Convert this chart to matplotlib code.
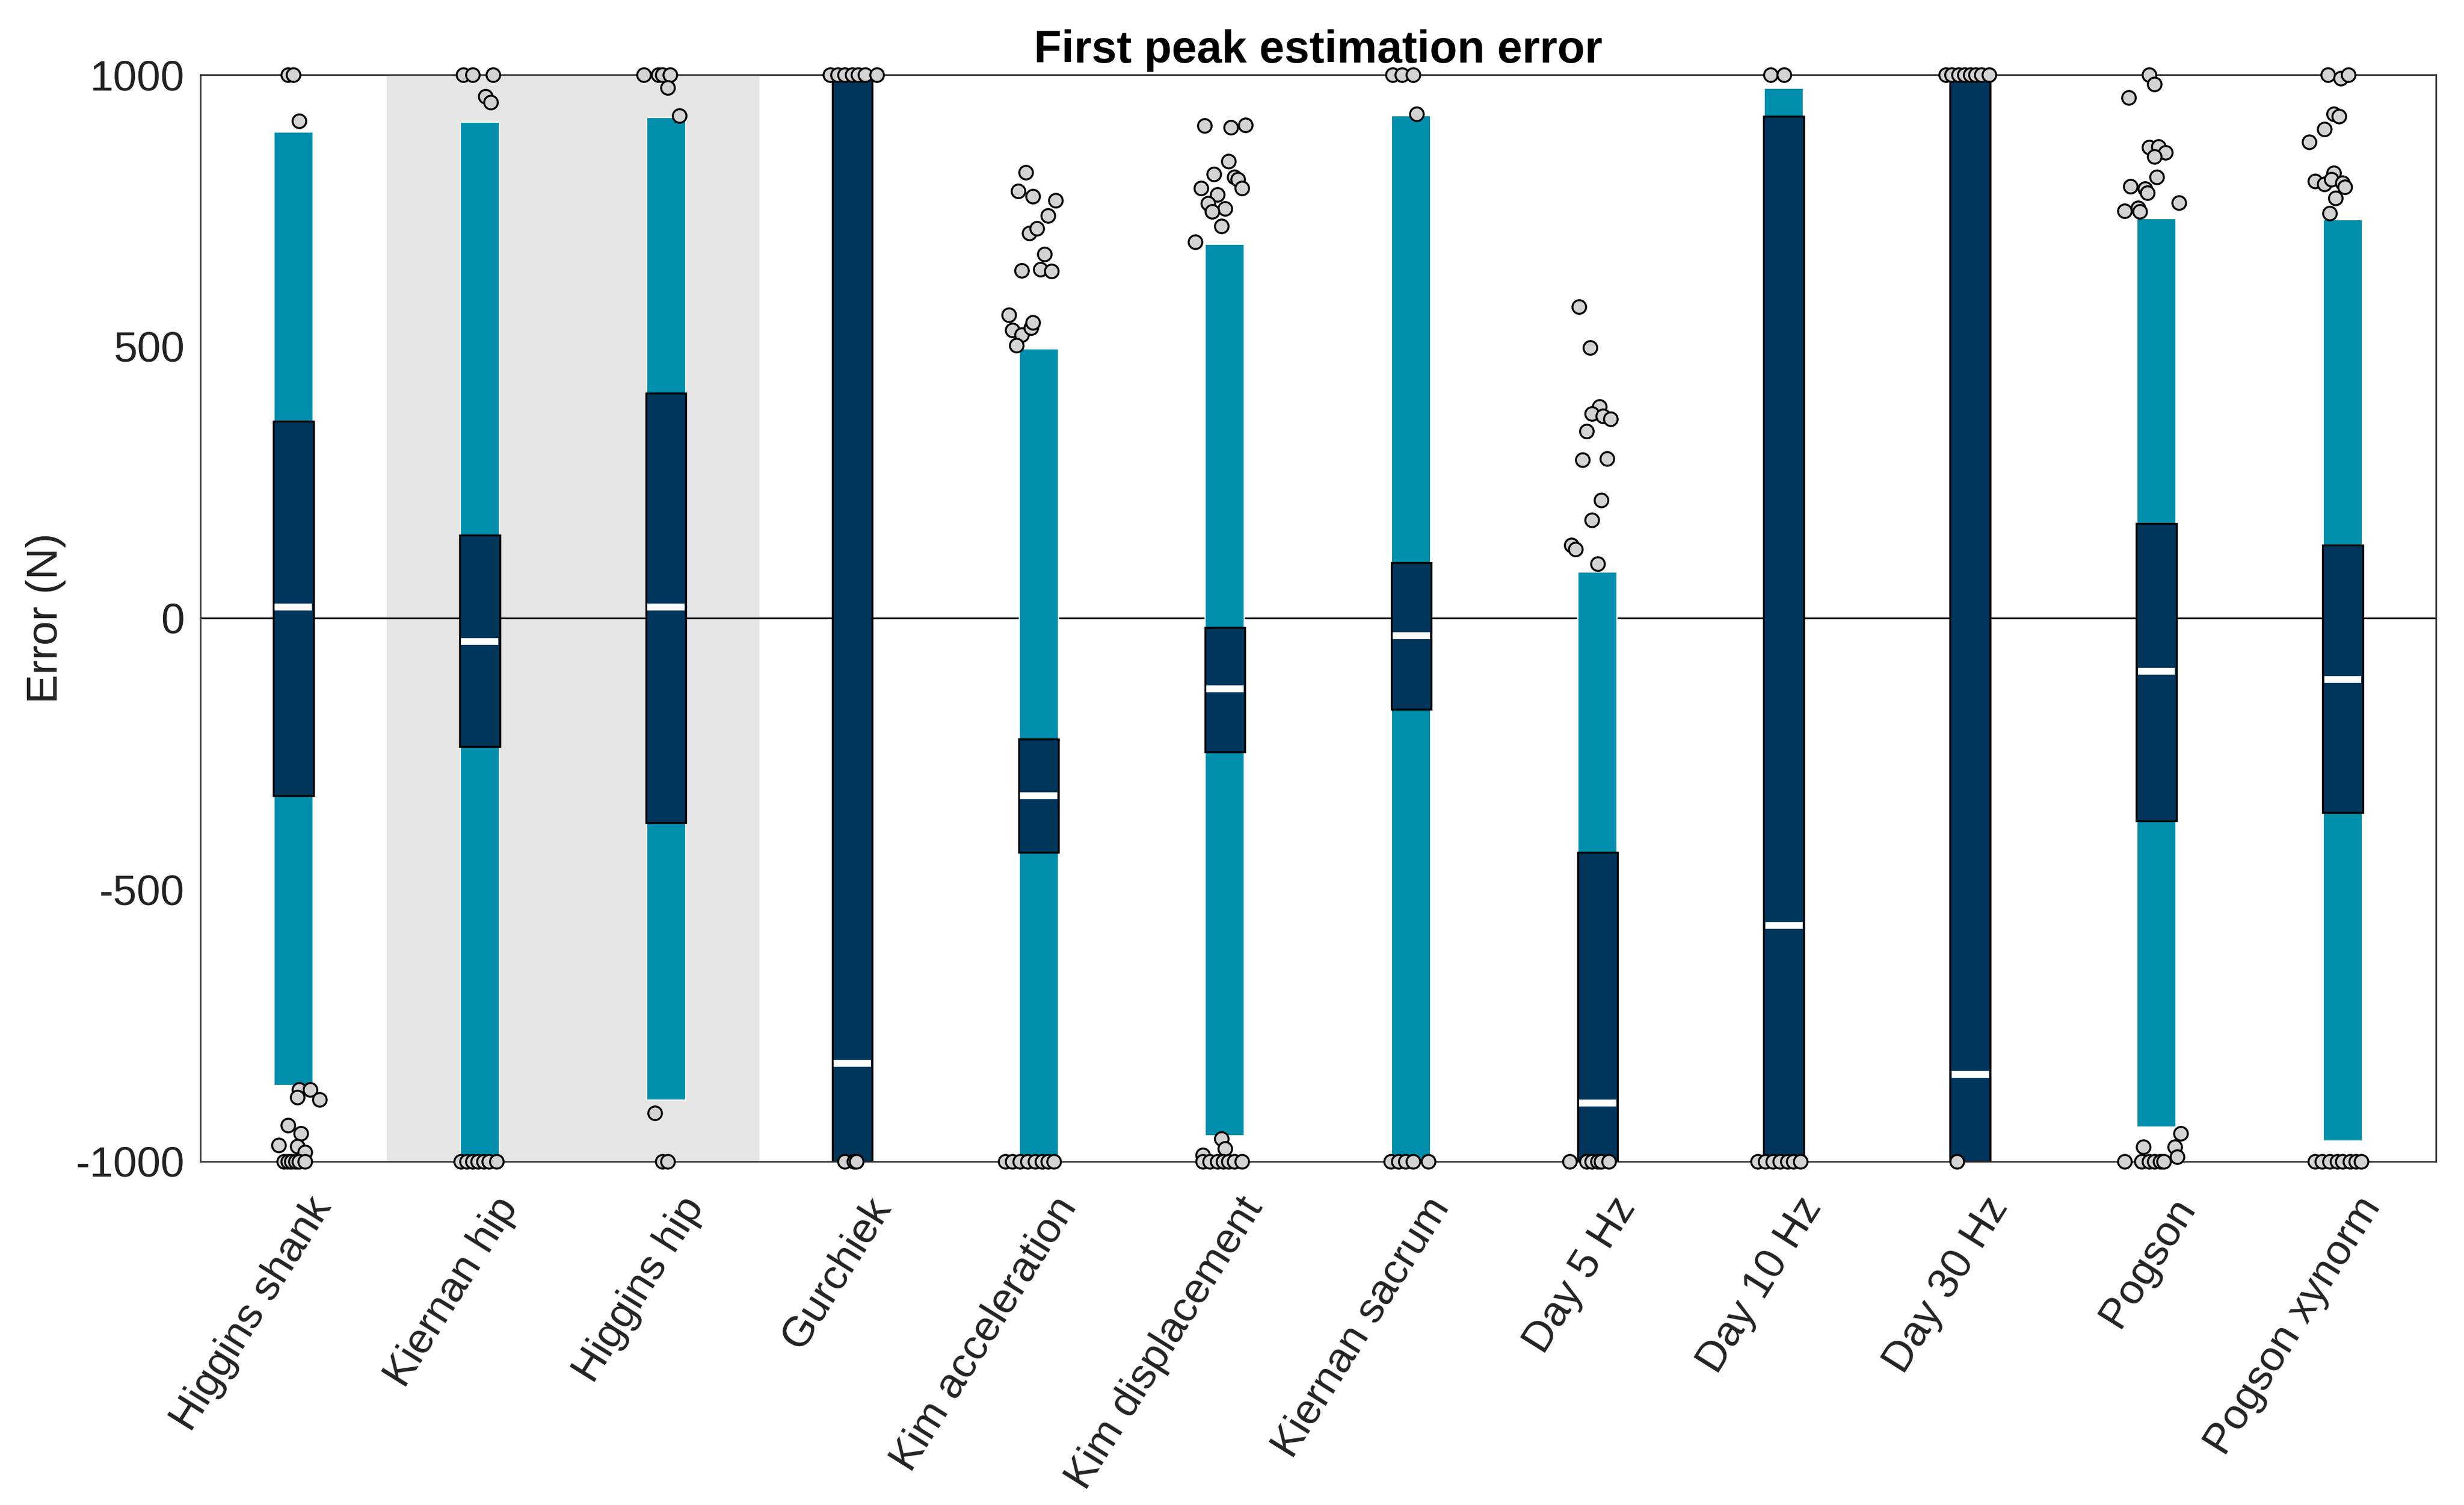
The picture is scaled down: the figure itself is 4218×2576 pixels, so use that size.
import numpy as np
import matplotlib
matplotlib.use('Agg')
import matplotlib.pyplot as plt
from matplotlib.transforms import ScaledTranslation

plt.rcParams['font.family'] = ['Liberation Sans', 'DejaVu Sans']

# categories and box summary values (N)
categories = ['Higgins shank', 'Kiernan hip', 'Higgins hip', 'Gurchiek',
              'Kim acceleration', 'Kim displacement', 'Kiernan sacrum',
              'Day 5 Hz', 'Day 10 Hz', 'Day 30 Hz', 'Pogson', 'Pogson xynorm']
whisk_lo = [-860, -1000, -887, -1000, -1000, -953, -1000, -1000, -1000, -1000, -937, -962]
whisk_hi = [895, 913, 921, 1000, 496, 688, 925, 85, 975, 1000, 736, 733]
q1 = [-327, -237, -376, -1000, -431, -246, -168, -1000, -1000, -1000, -373, -358]
q3 = [362, 153, 414, 1000, -223, -17, 102, -431, 924, 1000, 174, 134]
medians = [20, -43, 20, -819, -327, -130, -32, -893, -566, -840, -98, -113]

# outliers per category (values clipped at +/-1000) and their horizontal jitter
out_vals = [
    [1000, 1000, 915, -868, -868, -882, -886, -933, -949, -970, -972, -983,
     -1000, -1000, -1000, -1000, -1000, -1000],
    [1000, 1000, 1000, 960, 949, -1000, -1000, -1000, -1000, -1000, -1000, -1000],
    [1000, 1000, 1000, 1000, 976, 925, -911, -1000, -1000],
    [1000, 1000, 1000, 1000, 1000, 1000, 1000, -1000, -1000, -1000],
    [820, 786, 776, 769, 741, 709, 717, 670, 640, 642, 639, 558, 530, 521, 534, 544, 502,
     -1000, -1000, -1000, -1000, -1000, -1000, -1000, -1000],
    [906, 903, 908, 841, 817, 812, 808, 791, 791, 780, 763, 754, 748, 721, 693,
     -958, -976, -988, -1000, -1000, -1000, -1000, -1000, -1000, -1000],
    [1000, 1000, 1000, 928, -1000, -1000, -1000, -1000, -1000],
    [573, 498, 389, 376, 372, 367, 344, 291, 294, 217, 181, 134, 127, 100,
     -1000, -1000, -1000, -1000, -1000, -1000],
    [1000, 1000, -1000, -1000, -1000, -1000, -1000, -1000, -1000],
    [1000, 1000, 1000, 1000, 1000, 1000, 1000, 1000, -1000],
    [1000, 983, 958, 867, 868, 857, 849, 812, 795, 790, 783, 765, 750, 755, 748,
     -1000, -1000, -1000, -1000, -1000, -1000, -973, -949, -973, -991],
    [1000, 994, 1000, 928, 924, 900, 876, 819, 804, 799, 808, 801, 794, 773, 745,
     -1000, -1000, -1000, -1000, -1000, -1000, -1000, -1000],
]
out_dx = [
    [-0.03, 0.0, 0.03, 0.03, 0.09, 0.02, 0.14, -0.03, 0.04, -0.08, 0.02, 0.06,
     -0.05, -0.03, -0.01, 0.01, 0.03, 0.06],
    [-0.09, -0.04, 0.07, 0.03, 0.06, -0.1, -0.07, -0.04, -0.01, 0.02, 0.05, 0.09],
    [-0.12, -0.04, -0.02, 0.02, 0.01, 0.07, -0.06, -0.02, 0.01],
    [-0.12, -0.08, -0.04, 0.0, 0.03, 0.07, 0.13, -0.04, 0.01, 0.02],
    [-0.07, -0.11, -0.03, 0.09, 0.05, -0.05, -0.01, 0.03, -0.09, 0.01, 0.07, -0.16, -0.14,
     -0.09, -0.04, -0.03, -0.12, -0.18, -0.14, -0.1, -0.06, -0.02, 0.02, 0.05, 0.08],
    [-0.11, 0.03, 0.11, 0.02, -0.06, 0.05, 0.07, 0.09, -0.13, -0.04, -0.09, 0.0, -0.07,
     -0.02, -0.16, -0.02, 0.0, -0.12, -0.12, -0.08, -0.04, -0.01, 0.02, 0.05, 0.09],
    [-0.1, -0.05, 0.01, 0.03, -0.11, -0.07, -0.03, 0.01, 0.09],
    [-0.1, -0.04, 0.01, -0.03, 0.03, 0.07, -0.06, -0.08, 0.05, 0.02, -0.03, -0.14, -0.12,
     0.0, -0.15, -0.06, -0.03, 0.0, 0.02, 0.06],
    [-0.07, 0.0, -0.14, -0.1, -0.06, -0.02, 0.02, 0.05, 0.09],
    [-0.13, -0.1, -0.06, -0.03, 0.0, 0.03, 0.06, 0.1, -0.07],
    [-0.04, -0.01, -0.15, -0.04, 0.01, 0.05, -0.01, 0.0, -0.14, -0.06, -0.05, 0.12, -0.17,
     -0.1, -0.09, -0.17, -0.08, -0.04, -0.01, 0.02, 0.04, -0.07, 0.13, 0.1, 0.11],
    [-0.08, -0.01, 0.03, -0.05, -0.02, -0.1, -0.18, -0.05, -0.15, -0.1, -0.06, 0.0, 0.01,
     -0.04, -0.07, -0.15, -0.11, -0.07, -0.03, 0.0, 0.04, 0.07, 0.1],
]

light = '#008fad'
dark = '#00365c'

fig = plt.figure(figsize=(4218 / 300, 2576 / 300), dpi=300)
ax = fig.add_axes([0.0813, 0.2283, 0.9073, 0.7220])

x = np.arange(len(categories))

# shaded group
ax.axvspan(0.5, 2.5, color='#e5e5e5', zorder=0, lw=0)
ax.axhline(0, color='black', lw=0.7, zorder=1)

lo = np.array(whisk_lo)
hi = np.array(whisk_hi)
ax.bar(x, hi - lo, bottom=lo, width=0.21, color=light, edgecolor='white',
       linewidth=0.5, zorder=2)
b1 = np.array(q1)
b3 = np.array(q3)
ax.bar(x, b3 - b1, bottom=b1, width=0.215, color=dark, edgecolor='black',
       linewidth=0.8, zorder=3)
ax.hlines(medians, x - 0.1, x + 0.1, colors='white', lw=2.8, zorder=4)

for i in range(len(categories)):
    ax.plot(x[i] + np.array(out_dx[i]), out_vals[i], 'o', ms=5.6,
            mfc='#d3d3d3', mec='black', mew=0.8, ls='none',
            zorder=5, clip_on=False)

ax.set_xlim(-0.5, 11.5)
ax.set_ylim(-1000, 1000)
ax.set_yticks([-1000, -500, 0, 500, 1000])
ax.set_yticklabels(['-1000', '-500', '0', '500', '1000'])
ax.set_xticks(x)
ax.set_xticklabels(categories, rotation=58, ha='right', va='top',
                   rotation_mode='anchor')
ax.tick_params(axis='both', length=0, labelsize=17.5, colors='#222222')
ax.tick_params(axis='y', pad=6.5)
ax.tick_params(axis='x', pad=12)
off = ScaledTranslation(22 / 300, 0, fig.dpi_scale_trans)
for lab in ax.get_xticklabels():
    lab.set_transform(lab.get_transform() + off)

for s in ax.spines.values():
    s.set_color('#404040')
    s.set_linewidth(0.7)

ax.set_ylabel('Error (N)', fontsize=18, color='#222222')
ax.yaxis.set_label_coords(-0.060, 0.5)
ax.set_title('First peak estimation error', fontsize=18.5, fontweight='bold', pad=5)

fig.savefig('out.png', dpi=300)
